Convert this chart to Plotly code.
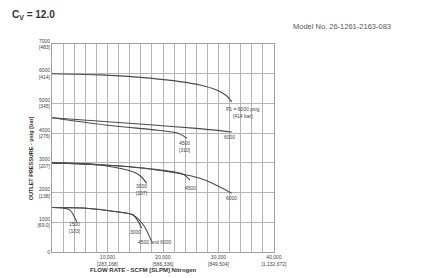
import plotly.graph_objects as go

# ---------------- data ----------------
x_tick_vals = [10000, 20000, 30000, 40000]
x_tick_text = ["10,000<br>[283,168]", "20,000<br>[566,336]", "30,000<br>[849,504]", "40,000<br>[1,132,672]"]
y_tick_vals = [0, 1000, 2000, 3000, 4000, 5000, 6000, 7000]
y_tick_text = ["0", "1000<br>[69.0]", "2000<br>[138]", "3000<br>[207]", "4000<br>[276]",
               "5000<br>[345]", "6000<br>[414]", "7000<br>[483]"]

# outlet set 6000, inlet 6000
f_6000_6000 = [0, 8650, 17660, 26670, 29670, 31500, 32400]
p_6000_6000 = [6000, 5960, 5850, 5620, 5450, 5250, 5050]
# outlet set 4500
f_4500_4500 = [0, 11650, 18000, 22460, 24300]
p_4500_4500 = [4520, 4230, 4120, 4010, 3830]
f_4500_6000 = [0, 17660, 26000, 32400]
p_4500_6000 = [4520, 4280, 4160, 4040]
# outlet set 3000
f_3000_3000 = [0, 8650, 14600, 16000, 17060]
p_3000_3000 = [3000, 2930, 2700, 2550, 2310]
f_3000_4500 = [0, 8650, 17660, 23600, 24860]
p_3000_4500 = [3000, 2935, 2800, 2620, 2420]
f_3000_6000 = [0, 8650, 17660, 26670, 32380]
p_3000_6000 = [3000, 2935, 2795, 2480, 1980]
# outlet set 1500
f_1500_1500 = [0, 2000, 3240, 4450]
p_1500_1500 = [1500, 1480, 1410, 1020]
f_1500_3000 = [0, 5600, 11650, 14600, 16160]
p_1500_3000 = [1500, 1480, 1357, 1245, 808]
f_1500_6000 = [0, 5600, 11650, 14600, 16500, 17960]
p_1500_6000 = [1500, 1480, 1357, 1245, 900, 350]

curves = [
    (f_6000_6000, p_6000_6000), (f_4500_4500, p_4500_4500), (f_4500_6000, p_4500_6000),
    (f_3000_3000, p_3000_3000), (f_3000_4500, p_3000_4500), (f_3000_6000, p_3000_6000),
    (f_1500_1500, p_1500_1500), (f_1500_3000, p_1500_3000), (f_1500_6000, p_1500_6000),
]

labels = ["P1 = 6000 psig<br>[414 bar]", "6000", "4500<br>[310]", "3000<br>[207]", "4500", "6000",
          "1500<br>[103]", "3000", "4500 and 6000"]
label_flow = [34400, 32070, 23960, 16200, 25000, 32430, 4140, 15130, 18560]
label_press = [4710, 3855, 3535, 2120, 2150, 1820, 825, 673, 320]

# ---------------- figure ----------------
fig = go.Figure()
for f, p in curves:
    fig.add_trace(go.Scatter(x=f, y=p, mode="lines",
                             line=dict(color="#4a4a4a", width=1.1, shape="spline", smoothing=0.8),
                             showlegend=False, hoverinfo="skip"))

font_family = "Liberation Sans, Arial, sans-serif"
for t, fx, py in zip(labels, label_flow, label_press):
    fig.add_annotation(x=fx, y=py, text=t, showarrow=False,
                       font=dict(size=5, color="#444444", family=font_family))

fig.add_annotation(xref="paper", yref="paper", x=-0.095, y=0.45, xanchor="center", yanchor="middle",
                   text="<b>OUTLET PRESSURE - psig [bar]</b>",
                   textangle=-90, showarrow=False, font=dict(size=5.5, color="#333333", family=font_family))
fig.add_annotation(xref="paper", yref="paper", x=0.41, y=-0.088, yanchor="middle",
                   text="<b>FLOW RATE - SCFM [SLPM] Nitrogen</b>",
                   showarrow=False, font=dict(size=6, color="#333333", family=font_family))
fig.add_annotation(xref="paper", yref="paper", x=-0.19, y=1.138, xanchor="left", yanchor="middle",
                   text="<b>C<sub>V</sub> = 12.0</b>", showarrow=False,
                   font=dict(size=10, color="#333333", family=font_family))
fig.add_annotation(xref="paper", yref="paper", x=1.075, y=1.086, xanchor="left", yanchor="middle",
                   text="Model No. 26-1261-2163-083", showarrow=False,
                   font=dict(size=7.5, color="#555555", family=font_family))

grid_col = "#b4b4b4"
fig.update_xaxes(range=[0, 40000], showgrid=True, gridcolor=grid_col, gridwidth=1,
                 tickmode="array", tickvals=x_tick_vals, ticktext=x_tick_text,
                 tickfont=dict(size=5, color="#444444", family=font_family),
                 showline=True, linecolor="#a0a0a0", mirror=True, zeroline=False, ticks="",
                 minor=dict(tickmode="linear", tick0=0, dtick=2000, showgrid=True,
                            gridcolor=grid_col, gridwidth=1))
fig.update_yaxes(range=[0, 7000], showgrid=True, gridcolor=grid_col, gridwidth=1,
                 tickmode="array", tickvals=y_tick_vals, ticktext=y_tick_text,
                 tickfont=dict(size=5, color="#444444", family=font_family),
                 showline=True, linecolor="#a0a0a0", mirror=True, zeroline=False, ticks="")

# the page body adds an 8px margin, so the figure is made 8px smaller and shifted
fig.update_layout(width=417, height=270, margin=dict(l=44, r=151, t=36, b=26),
                  plot_bgcolor="white", paper_bgcolor="white")

fig.write_html("out.html")
